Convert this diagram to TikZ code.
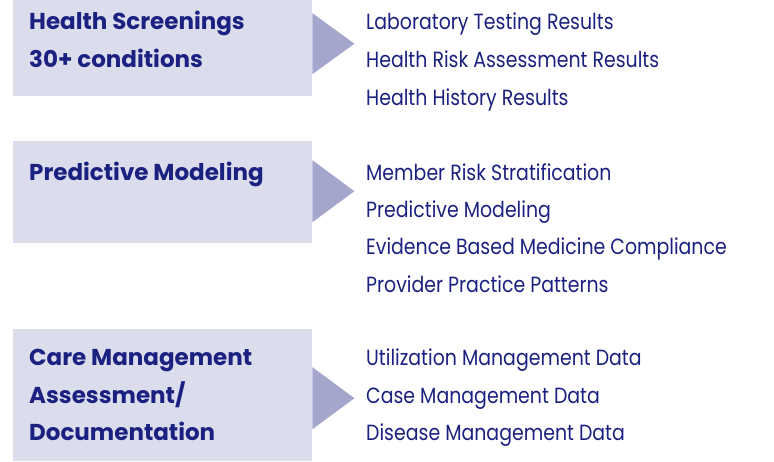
\documentclass[tikz,border=0pt]{standalone}
\usepackage{fontspec}
\setmainfont{Poppins}
\newfontfamily\itemfont[FakeStretch=0.86]{Poppins}
\definecolor{panelfill}{HTML}{DBDCEC}
\definecolor{pointerfill}{HTML}{A4A6CC}
\definecolor{navy}{HTML}{1B2180}
\begin{document}
\begin{tikzpicture}[x=1pt,y=-1pt]
\tikzstyle{every node}+=[inner sep=0pt]
\tikzstyle{panel}=[fill=panelfill, anchor=north west, minimum width=299pt]
\tikzstyle{heading}=[anchor=base west, text=navy, font=\fontsize{23}{26}\selectfont\bfseries]
\tikzstyle{item}=[anchor=base west, text=navy, font=\itemfont\fontsize{22}{25}\selectfont]
\useasboundingbox (0,0) rectangle (774,461);
\node [panel, minimum height=96pt] (screen) at (13,0) {};
\node [panel, minimum height=102pt] (model) at (13,141) {};
\node [panel, minimum height=132pt] (care) at (13,329) {};
\fill [pointerfill] (screen.east) ++(0,-35) -- ++(42,30.5) -- ++(-42,30.5) -- cycle;
\fill [pointerfill] (model.east) ++(0,-32) -- ++(42,31) -- ++(-42,31) -- cycle;
\fill [pointerfill] (care.east) ++(0,-28) -- ++(42,31) -- ++(-42,31) -- cycle;
\node [heading] (screen1) at (29,29.5) {Health Screenings};
\node [heading] (screen2) at (29,67.5) {30+ conditions};
\node [heading] (model1) at (29,180) {Predictive Modeling};
\node [heading] (care1) at (29,365.5) {Care Management};
\node [heading] (care2) at (29,403) {Assessment/};
\node [heading] (care3) at (29,440.5) {Documentation};
\node [item] (lab) at (366,29.5) {Laboratory Testing Results};
\node [item] (hra) at (366,67.5) {Health Risk Assessment Results};
\node [item] (hist) at (366,105) {Health History Results};
\node [item] (strat) at (366,180) {Member Risk Stratification};
\node [item] (pred) at (366,217.5) {Predictive Modeling};
\node [item] (ebm) at (366,254.5) {Evidence Based Medicine Compliance};
\node [item] (prac) at (366,292) {Provider Practice Patterns};
\node [item] (util) at (366,365.5) {Utilization Management Data};
\node [item] (case) at (366,403) {Case Management Data};
\node [item] (dis) at (366,440.5) {Disease Management Data};
\end{tikzpicture}
\end{document}
